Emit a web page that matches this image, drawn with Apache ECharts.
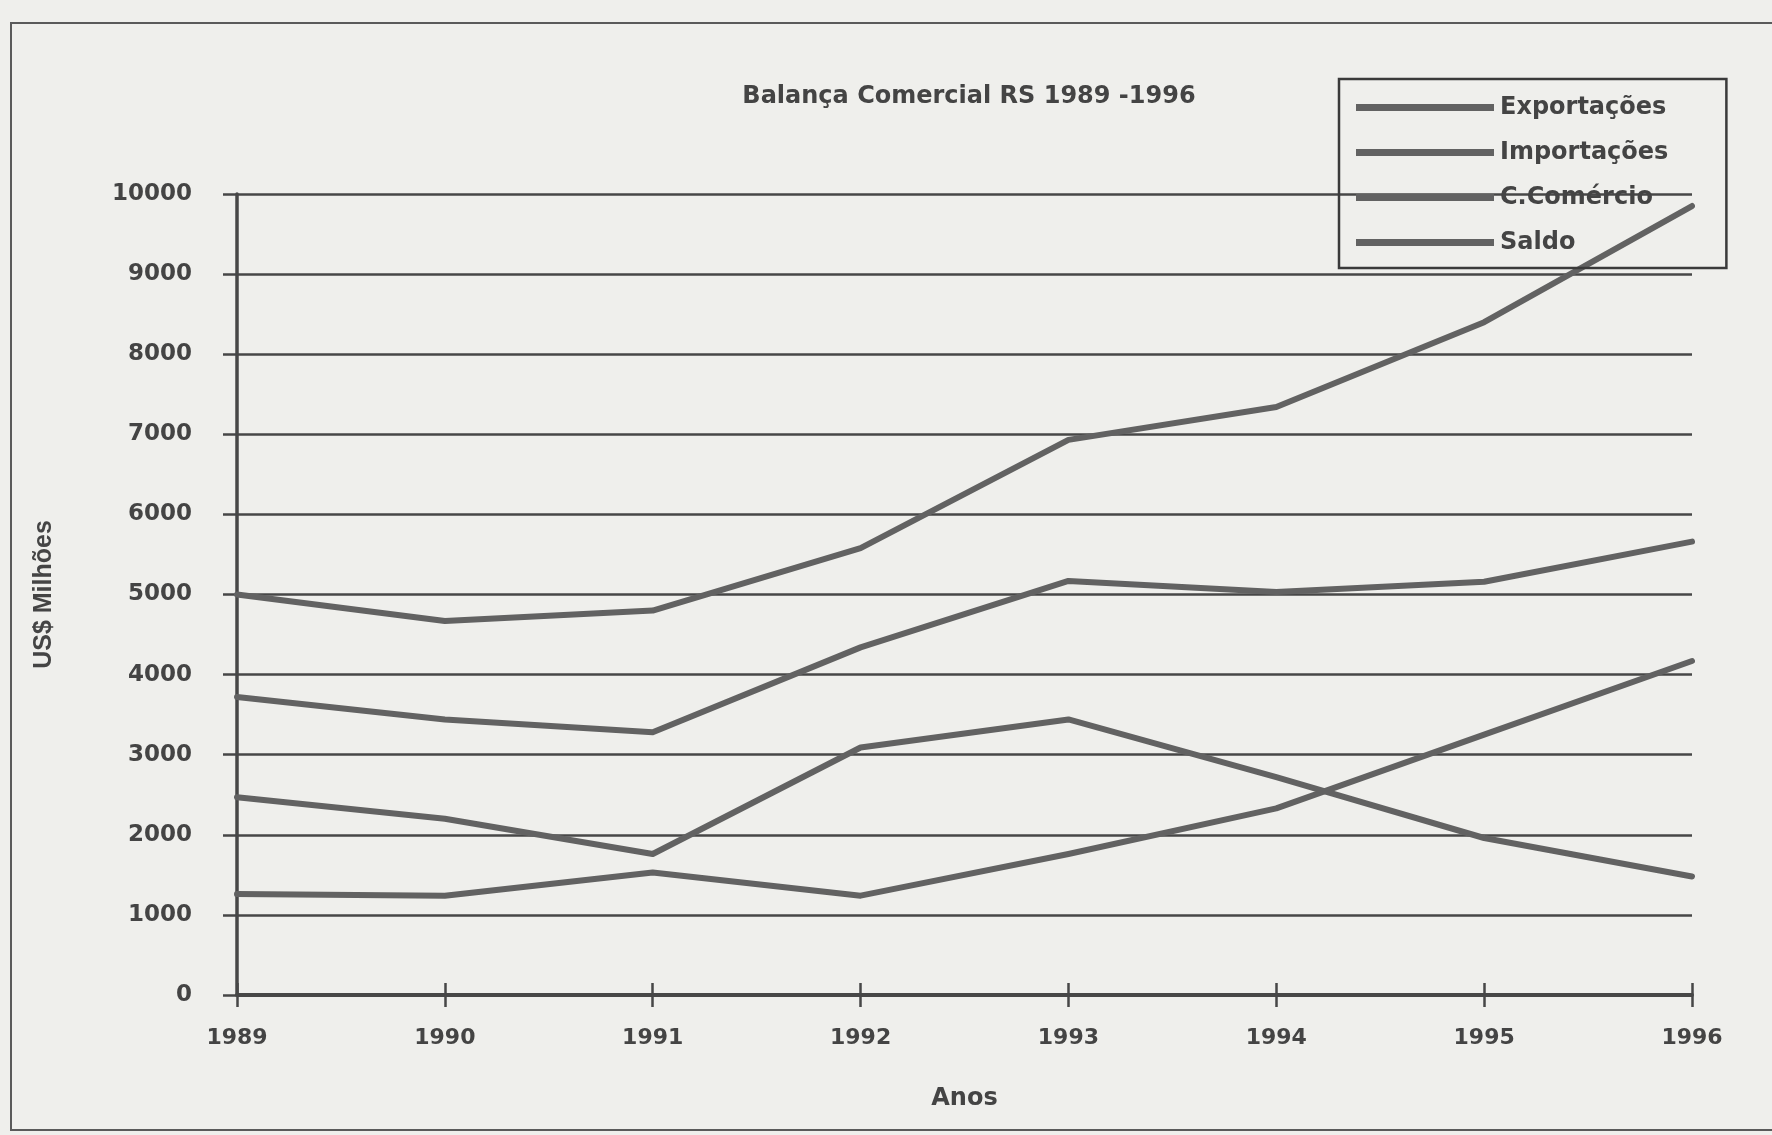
<!DOCTYPE html>
<html>
<head>
<meta charset="utf-8">
<script src="https://cdn.jsdelivr.net/npm/echarts@6/dist/echarts.min.js"></script>
<style>
  html, body { margin: 0; padding: 0; background: #efefec; }
  #chart { width: 1772px; height: 1135px; }
</style>
</head>
<body>
<div id="chart"></div>
<script>
// Balança comercial do Rio Grande do Sul, 1989-1996 (US$ milhões)
const anos = ['1989', '1990', '1991', '1992', '1993', '1994', '1995', '1996'];
const exportacoes = [3720, 3440, 3280, 4340, 5170, 5030, 5160, 5660];
const importacoes = [1260, 1240, 1530, 1240, 1760, 2330, 3250, 4170];
const comercio    = [5000, 4670, 4800, 5580, 6930, 7340, 8400, 9850];
const saldo       = [2470, 2200, 1760, 3090, 3440, 2720, 1960, 1480];

const ink = '#444444';
const lineGray = '#626262';
const gridGray = '#474747';

const chart = echarts.init(document.getElementById('chart'));

function serie(nome, dados) {
  return {
    name: nome,
    type: 'line',
    data: dados,
    symbol: 'none',
    lineStyle: { color: lineGray, width: 6, cap: 'round', join: 'round' },
    itemStyle: { color: lineGray },
    z: 3
  };
}

chart.setOption({
  backgroundColor: '#efefec',
  animation: false,
  title: {
    text: 'Balança Comercial RS 1989 -1996',
    left: 964,
    top: 80,
    textAlign: 'center',
    textStyle: { fontFamily: 'DejaVu Sans', fontWeight: 'bold', fontSize: 24, color: ink }
  },
  legend: {
    orient: 'vertical',
    left: 1339,
    top: 79,
    padding: [16, 58, 13, 17],
    itemWidth: 138,
    itemHeight: 7,
    itemGap: 20,
    icon: 'rect',
    borderColor: '#3a3a3a',
    borderWidth: 2.5,
    textStyle: { fontFamily: 'DejaVu Sans', fontWeight: 'bold', fontSize: 24, lineHeight: 25, color: ink, padding: [0, 0, 0, 1] },
    data: ['Exportações', 'Importações', 'C.Comércio', 'Saldo']
  },
  grid: { left: 237, right: 80, top: 194, bottom: 140 },
  xAxis: [
    {
      type: 'category',
      data: anos,
      boundaryGap: false,
      name: 'Anos',
      nameLocation: 'middle',
      nameGap: 92,
      nameTextStyle: { fontFamily: 'DejaVu Sans', fontWeight: 'bold', fontSize: 24, color: ink },
      axisLine: { lineStyle: { color: gridGray, width: 4 } },
      axisTick: { length: 12, lineStyle: { color: gridGray, width: 2.5 } },
      axisLabel: { margin: 32, fontFamily: 'DejaVu Sans', fontWeight: 'bold', fontSize: 22, color: ink }
    },
    {
      type: 'category',
      data: anos,
      boundaryGap: false,
      position: 'bottom',
      axisLine: { show: false },
      axisTick: { inside: true, length: 12, lineStyle: { color: gridGray, width: 2.5 } },
      axisLabel: { show: false }
    }
  ],
  yAxis: {
    type: 'value',
    min: 0,
    max: 10000,
    interval: 1000,
    name: 'US$ Milhões',
    nameLocation: 'middle',
    nameGap: 180,
    nameTextStyle: { fontFamily: 'Liberation Sans', fontWeight: 'bold', fontSize: 25, color: ink },
    axisLine: { show: true, lineStyle: { color: gridGray, width: 3.5 } },
    axisTick: { show: true, length: 14, lineStyle: { color: gridGray, width: 2.5 } },
    axisLabel: {
      margin: 45,
      formatter: (v) => String(v),
      fontFamily: 'DejaVu Sans', fontWeight: 'bold', fontSize: 23, color: ink
    },
    splitLine: { show: true, lineStyle: { color: gridGray, width: 2.5 } }
  },
  graphic: [
    {
      type: 'rect',
      shape: { x: 11, y: 23, width: 1800, height: 1107 },
      style: { fill: 'none', stroke: '#5a5a5a', lineWidth: 2 },
      silent: true,
      z: -1
    }
  ],
  series: [
    serie('Exportações', exportacoes),
    serie('Importações', importacoes),
    serie('C.Comércio', comercio),
    serie('Saldo', saldo)
  ]
});
</script>
</body>
</html>
